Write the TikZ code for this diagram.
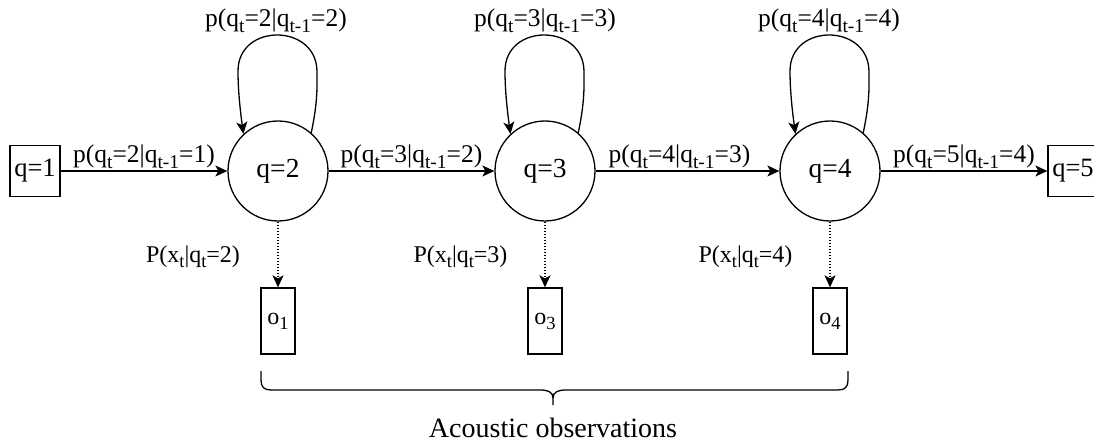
\documentclass[tikz,border=0pt]{standalone}
\usepackage{fontspec}
\setmainfont{Liberation Serif}
\usetikzlibrary{arrows.meta,calc}
\newcommand\sbs[1]{\raisebox{-5pt}{\fontsize{18.5}{18.5}\selectfont #1}}
\newcommand\sbt[1]{\raisebox{-6pt}{\fontsize{19.5}{19.5}\selectfont #1}}
\newcommand\selfloop[1]{%
  \draw[arr] (#1.49) .. controls ([shift={(40,70)}]#1.center) and ([shift={(39,85)}]#1.center) .. ([shift={(39,100)}]#1.center)
    .. controls ([shift={(38,148)}]#1.center) and ([shift={(-40,148)}]#1.center) .. ([shift={(-40,100)}]#1.center)
    .. controls ([shift={(-40,82)}]#1.center) and ([shift={(-38,62)}]#1.center) .. (#1.133);}
\begin{document}
\begin{tikzpicture}[x=1pt,y=1pt,
  every node/.style={font=\fontsize{24}{28}\selectfont},
  line width=1.3pt,
  state/.style={circle,draw,minimum size=100pt,inner sep=0pt,font=\fontsize{27.5}{30}\selectfont},
  sbox/.style={rectangle,draw,minimum width=50pt,minimum height=51pt,inner sep=0pt,font=\fontsize{26.5}{30}\selectfont},
  obox/.style={rectangle,draw,minimum width=34pt,minimum height=66pt,inner sep=0pt},
  arr/.style={-{Stealth[length=12pt,width=11pt,inset=3pt]}},
  emit/.style={arr,dash pattern=on 1.3pt off 1.7pt},
  lab/.style={anchor=base,inner sep=0pt},
  tlab/.style={lab,font=\fontsize{25.5}{30}\selectfont},
  brace/.style={line width=1.3pt}
]
\useasboundingbox (0,0) rectangle (1094,-443);
% states
\node[sbox] (q1) at (35,-171) {q=1};
\node[state] (c2) at (278,-171) {q=2};
\node[state] (c3) at (545,-171) {q=3};
\node[state] (c4) at (830,-171) {q=4};
\node[sbox] (q5) at (1073,-171) {q=5};
% observations
\node[obox] (o1) at (278,-321) {o\sbs{1}};
\node[obox] (o3) at (545,-321) {o\sbs{3}};
\node[obox] (o4) at (830,-321) {o\sbs{4}};
% transitions
\draw[arr] (q1) -- (c2) node[tlab,midway,yshift=8pt] {p(q\sbt{t}=2|q\sbt{t-1}=1)};
\draw[arr] (c2) -- (c3) node[tlab,midway,yshift=8pt] {p(q\sbt{t}=3|q\sbt{t-1}=2)};
\draw[arr] (c3) -- (c4) node[tlab,midway,yshift=8pt,xshift=-8pt] {p(q\sbt{t}=4|q\sbt{t-1}=3)};
\draw[arr] (c4) -- (q5) node[tlab,midway,yshift=8pt] {p(q\sbt{t}=5|q\sbt{t-1}=4)};
% self loops
\selfloop{c2}
\selfloop{c3}
\selfloop{c4}
\node[tlab] (l2) at ([shift={(-2,144)}]c2.center) {p(q\sbt{t}=2|q\sbt{t-1}=2)};
\node[tlab] (l3) at ([shift={(0,144)}]c3.center) {p(q\sbt{t}=3|q\sbt{t-1}=3)};
\node[tlab] (l4) at ([shift={(-1,144)}]c4.center) {p(q\sbt{t}=4|q\sbt{t-1}=4)};
% emissions
\draw[emit] (c2) -- (o1);
\draw[emit] (c3) -- (o3);
\draw[emit] (c4) -- (o4);
\node[lab] (e2) at (193,-263) {P(x\sbs{t}|q\sbs{t}=2)};
\node[lab] (e3) at (460.5,-263) {P(x\sbs{t}|q\sbs{t}=3)};
\node[lab] (e4) at (745.5,-263) {P(x\sbs{t}|q\sbs{t}=4)};
% brace
\coordinate (bl) at (261,-371);
\coordinate (br) at (848,-371);
\coordinate (bt) at (553,-405);
\draw[brace] (bl) -- (261,-380) .. controls (261,-387) and (264,-390) .. (271,-390) -- (540,-390)
  .. controls (548,-390) and (553,-392) .. (553,-398) -- (bt);
\draw[brace] (553,-398) .. controls (553,-392) and (558,-390) .. (566,-390) -- (838,-390)
  .. controls (845,-390) and (848,-387) .. (848,-380) -- (br);
\node[lab,font=\fontsize{28}{32}\selectfont] (ac) at (553,-437) {Acoustic observations};
\end{tikzpicture}
\end{document}
